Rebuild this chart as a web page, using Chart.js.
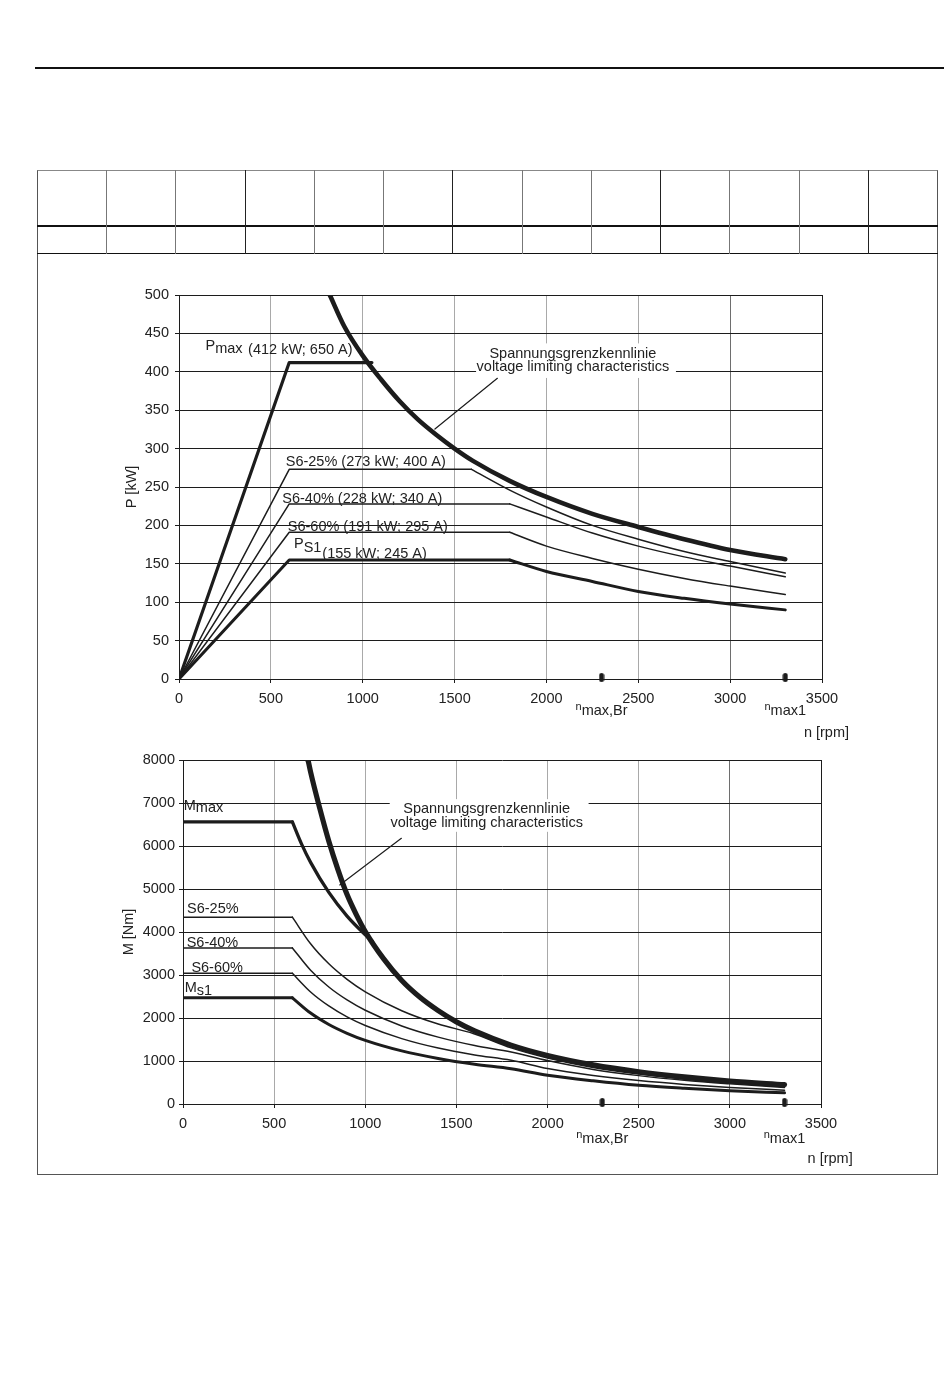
<!DOCTYPE html>
<html>
<head>
<meta charset="utf-8">
<script src="https://cdn.jsdelivr.net/npm/chart.js@4.4.1/dist/chart.umd.min.js"></script>
<style>
  html, body { margin: 0; padding: 0; background: #fff; }
  body { width: 950px; height: 1397px; position: relative; overflow: hidden; }
  .abs { position: absolute; }
  canvas { position: absolute; }
</style>
</head>
<body>
<div class="abs" style="left:35px;top:67px;width:909px;height:2px;background:#111"></div>
<div class="abs" style="left:37px;top:170px;width:899px;height:1003px;border:1px solid #555;border-top-color:#888"></div>
<div class="abs" style="left:37px;top:225px;width:901px;height:2px;background:#111"></div>
<div class="abs" style="left:37px;top:253px;width:901px;height:1px;background:#111"></div>
<div id="cols"></div>
<canvas id="powerChart" width="770" height="465" style="left:100px;top:280px"></canvas>
<canvas id="torqueChart" width="770" height="425" style="left:100px;top:745px"></canvas>
<script>
// ---- tick labels ----
const rpmTicks = [0, 500, 1000, 1500, 2000, 2500, 3000, 3500];
const powerTicks = [0, 50, 100, 150, 200, 250, 300, 350, 400, 450, 500];
const torqueTicks = [0, 1000, 2000, 3000, 4000, 5000, 6000, 7000, 8000];
const markerRpm = [2300, 3300]; // n max,Br and n max1

// ---- power chart, P [kW] over n [rpm] ----
const pMaxRpm = [0, 600, 1050];
const pMaxKw = [0, 412, 412];
const pVoltRpm = [821, 900, 1000, 1100, 1200, 1300, 1400, 1500, 1600, 1800, 2000, 2250, 2500, 2750, 3000, 3300];
const pVoltKw = [500, 459, 421, 390, 362, 338, 318, 300, 284, 258, 237, 215, 198, 182, 168, 156];
const p25Rpm = [0, 600, 1592, 1800, 2000, 2250, 2500, 2750, 3000, 3300];
const p25Kw = [0, 273, 273, 246, 224, 200, 182, 166, 153, 138];
const p40Rpm = [0, 600, 1800, 2000, 2250, 2500, 2750, 3000, 3300];
const p40Kw = [0, 228, 228, 211, 190, 173, 159, 147, 133];
const p60Rpm = [0, 600, 1800, 2000, 2250, 2500, 2750, 3000, 3300];
const p60Kw = [0, 191, 191, 173, 157, 143, 131, 121, 110];
const pS1Rpm = [0, 600, 1800, 2000, 2250, 2500, 2750, 3000, 3300];
const pS1Kw = [0, 155, 155, 140, 127, 114, 105, 97.6, 90];
const pLeaderRpm = [1393, 1733];
const pLeaderKw = [325.5, 391.5];

// ---- torque chart, M [Nm] over n [rpm] ----
const mMaxRpm = [0, 600, 650, 700, 800, 900, 1000, 1040];
const mMaxNm = [6560, 6560, 6050, 5620, 4920, 4370, 3935, 3780];
const mVoltRpm = [686, 700, 750, 800, 850, 900, 950, 1000, 1100, 1200, 1300, 1400, 1500, 1600, 1800, 2000, 2250, 2500, 2750, 3000, 3300];
const mVoltNm = [8000, 7720, 6880, 6110, 5450, 4870, 4410, 4010, 3380, 2870, 2480, 2170, 1910, 1700, 1370, 1130, 910, 750, 630, 535, 450];
const mCurveRpm = [0, 600, 700, 800, 900, 1000, 1200, 1400, 1600, 1800, 2000, 2250, 2500, 2750, 3000, 3300];
const m25Rpm = [0, 600, 700, 800, 900, 1000, 1200, 1400, 1592, 1800, 2000, 2250, 2500, 2750, 3000, 3300];
const m25Nm = [4345, 4345, 3725, 3260, 2900, 2610, 2170, 1860, 1640, 1305, 1070, 850, 695, 575, 487, 400];
const m40Nm = [3630, 3630, 3110, 2720, 2420, 2180, 1815, 1555, 1360, 1210, 1010, 805, 660, 550, 468, 385];
const m60Nm = [3040, 3040, 2605, 2280, 2025, 1825, 1520, 1300, 1140, 1015, 825, 665, 545, 455, 385, 320];
const mS1Nm = [2470, 2470, 2115, 1850, 1645, 1480, 1235, 1060, 925, 820, 670, 540, 435, 365, 310, 260];
const mLeaderRpm = [860, 1198];
const mLeaderNm = [5095, 6180];

const FONT = '"Liberation Sans", Arial, Helvetica, sans-serif';
const FONT_SIZE = 14.5;
const INK = '#1c1c1c';
Chart.defaults.font.family = FONT;
Chart.defaults.font.size = FONT_SIZE;
Chart.defaults.color = '#222';

// header cells of the frame
const cols = document.getElementById('cols');
for (let k = 1; k < 13; k++) {
  const d = document.createElement('div');
  d.className = 'abs';
  d.style.cssText = `left:${Math.round(37 + k * 69.23)}px;top:170px;width:1px;height:84px;background:${k % 3 === 0 ? '#222' : '#777'}`;
  cols.appendChild(d);
}

// little pill marking n max on the axis
const pill = document.createElement('canvas');
pill.width = 6; pill.height = 16;
(() => {
  const c = pill.getContext('2d');
  c.fillStyle = INK;
  c.beginPath();
  c.roundRect(0.5, 2, 5, 9, 2.5);
  c.fill();
})();

const pts = (xs, ys) => xs.map((x, i) => ({ x, y: ys[i] }));

// straight rise/plateau part drawn straight, falling part drawn smooth
function series(xs, ys, width) {
  const k = ys.lastIndexOf(Math.max(...ys));
  return [
    { data: pts(xs.slice(0, k + 1), ys.slice(0, k + 1)), borderWidth: width, tension: 0 },
    { data: pts(xs.slice(k), ys.slice(k)), borderWidth: width, cubicInterpolationMode: 'monotone' },
  ];
}

function lineDefaults(ds) {
  return Object.assign({
    showLine: true, borderColor: INK, pointRadius: 0, fill: false,
    borderCapStyle: 'round', borderJoinStyle: 'round',
  }, ds);
}

const xGridColor = (ctx) => {
  const v = ctx.tick ? ctx.tick.value : null;
  if (v === 0 || v === 3500) return INK;
  if (v === 3000) return '#6e6e6e';
  return '#a9a9a9';
};

function textLayer(items, box) {
  return {
    id: 'textLayer',
    beforeDatasetsDraw(chart) {
      const { x, y } = chart.scales;
      const ctx = chart.ctx;
      const l = x.getPixelForValue(box.x0), r = x.getPixelForValue(box.x1);
      const t = y.getPixelForValue(box.y1), b = y.getPixelForValue(box.y0);
      ctx.save();
      ctx.fillStyle = '#fff';
      ctx.fillRect(l, t, r - l, b - t);
      ctx.restore();
    },
    afterDatasetsDraw(chart) {
      const { x, y } = chart.scales;
      const ctx = chart.ctx;
      ctx.save();
      ctx.fillStyle = '#222';
      ctx.textBaseline = 'alphabetic';
      ctx.textAlign = 'left';
      items.forEach((item) => {
        const runs = item.runs.map(([text, drop = 0, size = FONT_SIZE]) => {
          ctx.font = `${size}px ${FONT}`;
          return { text, drop, size, w: ctx.measureText(text).width };
        });
        const total = runs.reduce((s, r) => s + r.w, 0);
        let px = x.getPixelForValue(item.x);
        if (item.align === 'center') px -= total / 2;
        if (item.align === 'right') px -= total;
        const py = y.getPixelForValue(item.y);
        runs.forEach((r) => {
          ctx.font = `${r.size}px ${FONT}`;
          ctx.fillText(r.text, px, py + r.drop);
          px += r.w;
        });
      });
      ctx.restore();
    },
  };
}

function buildChart(id, { datasets, yMin, yMax, yTicks, yWidth, yPad, yTitle, yTitlePad, rightPad, labels, box }) {
  return new Chart(document.getElementById(id), {
    type: 'scatter',
    data: { datasets: datasets.map(lineDefaults) },
    options: {
      responsive: false,
      animation: false,
      devicePixelRatio: 1,
      layout: { padding: { top: 15, right: rightPad, left: 0, bottom: 0 } },
      plugins: { legend: { display: false }, tooltip: { enabled: false } },
      scales: {
        x: {
          type: 'linear', min: 0, max: 3500,
          afterBuildTicks: (axis) => { axis.ticks = rpmTicks.map((value) => ({ value })); },
          afterFit: (axis) => { axis.height = 66; },
          ticks: { padding: 7, maxRotation: 0, autoSkip: false, color: '#222', callback: (v) => String(v) },
          grid: { color: xGridColor, lineWidth: 1, tickLength: 4, tickColor: INK },
          border: { color: INK, width: 1 },
        },
        y: {
          min: yMin, max: yMax,
          afterBuildTicks: (axis) => { axis.ticks = yTicks.map((value) => ({ value })); },
          afterFit: (axis) => { axis.width = yWidth; },
          ticks: { padding: yPad, autoSkip: false, color: '#222', callback: (v) => String(v) },
          grid: { color: INK, lineWidth: 1, tickLength: 4, tickColor: INK },
          border: { color: INK, width: 1 },
          title: { display: true, text: yTitle, color: '#222', padding: { top: yTitlePad, bottom: 0 } },
        },
      },
    },
    plugins: [textLayer(labels, box)],
  });
}

buildChart('powerChart', {
  yMin: 0, yMax: 500, yTicks: powerTicks, yWidth: 79, yPad: 6,
  yTitle: 'P [kW]', yTitlePad: 23, rightPad: 48,
  datasets: [
    { data: pts(pMaxRpm, pMaxKw), borderWidth: 3.2, tension: 0 },
    ...series(pVoltRpm, pVoltKw, 4.6),
    ...series(p25Rpm, p25Kw, 1.5),
    ...series(p40Rpm, p40Kw, 1.5),
    ...series(p60Rpm, p60Kw, 1.5),
    ...series(pS1Rpm, pS1Kw, 3),
    { data: pts(pLeaderRpm, pLeaderKw), borderWidth: 1.2 },
    { data: markerRpm.map((x) => ({ x, y: 0 })), showLine: false, pointStyle: pill, pointRadius: 5, clip: false },
  ],
  box: { x0: 1617, x1: 2705, y0: 392, y1: 437 },
  labels: [
    { x: 144, y: 428, runs: [['P'], ['max', 3]] },
    { x: 376, y: 423, runs: [['(412 kW; 650 A)']] },
    { x: 581, y: 277, runs: [['S6-25% (273 kW; 400 A)']] },
    { x: 562, y: 229.5, runs: [['S6-40% (228 kW; 340 A)']] },
    { x: 592, y: 193, runs: [['S6-60% (191 kW; 295 A)']] },
    { x: 626, y: 170, runs: [['P'], ['S1', 4]] },
    { x: 780, y: 157, runs: [['(155 kW; 245 A)']] },
    { x: 2144, y: 418, align: 'center', runs: [['Spannungsgrenzkennlinie']] },
    { x: 2144, y: 400.5, align: 'center', runs: [['voltage limiting characteristics']] },
    { x: 2300, y: -41, align: 'center', runs: [['n', 0, 11], ['max,Br', 5]] },
    { x: 3300, y: -41, align: 'center', runs: [['n', 0, 11], ['max1', 5]] },
    { x: 3647, y: -75.5, align: 'right', runs: [['n [rpm]']] },
  ],
});

buildChart('torqueChart', {
  yMin: 0, yMax: 8000, yTicks: torqueTicks, yWidth: 83, yPad: 4,
  yTitle: 'M [Nm]', yTitlePad: 20, rightPad: 49,
  datasets: [
    ...series(mMaxRpm, mMaxNm, 3.3),
    ...series(mVoltRpm, mVoltNm, 5.2),
    ...series(m25Rpm, m25Nm, 1.5),
    ...series(mCurveRpm, m40Nm, 1.5),
    ...series(mCurveRpm, m60Nm, 1.5),
    ...series(mCurveRpm, mS1Nm, 3),
    { data: pts(mLeaderRpm, mLeaderNm), borderWidth: 1.2 },
    { data: markerRpm.map((x) => ({ x, y: 0 })), showLine: false, pointStyle: pill, pointRadius: 5, clip: false },
  ],
  box: { x0: 1134, x1: 2225, y0: 6330, y1: 7090 },
  labels: [
    { x: 4, y: 6838, runs: [['M'], ['max', 2]] },
    { x: 22, y: 4445, runs: [['S6-25%']] },
    { x: 20, y: 3662, runs: [['S6-40%']] },
    { x: 46, y: 3081, runs: [['S6-60%']] },
    { x: 9, y: 2616, runs: [['M'], ['s1', 3]] },
    { x: 1666, y: 6768, align: 'center', runs: [['Spannungsgrenzkennlinie']] },
    { x: 1666, y: 6443, align: 'center', runs: [['voltage limiting characteristics']] },
    { x: 2300, y: -783, align: 'center', runs: [['n', 0, 11], ['max,Br', 5]] },
    { x: 3300, y: -783, align: 'center', runs: [['n', 0, 11], ['max1', 5]] },
    { x: 3674, y: -1364, align: 'right', runs: [['n [rpm]']] },
  ],
});
</script>
</body>
</html>
